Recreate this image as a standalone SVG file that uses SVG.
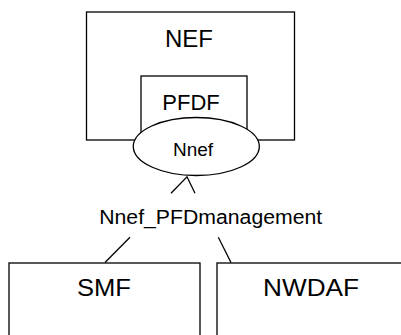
<svg xmlns="http://www.w3.org/2000/svg" width="401" height="335" viewBox="0 0 401 335">
<style>
.box{fill:#fff;stroke:#000;stroke-width:1.3}
.ln{fill:none;stroke:#000;stroke-width:1.3}
text{font-family:"Liberation Sans",Arial,sans-serif;fill:#000;text-anchor:middle}
</style>
<rect width="401" height="335" fill="#fff"/>
<g id="NEF">
<rect class="box" x="86.5" y="12" width="208" height="128"/>
<text x="189" y="46.5" font-size="24">NEF</text>
</g>
<g id="PFDF">
<rect class="box" x="141" y="76" width="106" height="60"/>
<text x="191" y="110" font-size="22">PFDF</text>
</g>
<g id="Nnef">
<ellipse class="box" cx="196.3" cy="146.5" rx="63" ry="29"/>
<text x="193" y="155.5" font-size="19">Nnef</text>
</g>
<g id="SMF">
<rect class="box" x="9" y="263" width="191" height="90"/>
<text x="104" y="295.5" font-size="24" textLength="54" lengthAdjust="spacingAndGlyphs">SMF</text>
</g>
<g id="NWDAF">
<rect class="box" x="217" y="263" width="200" height="90"/>
<text x="311" y="295.5" font-size="24" textLength="96" lengthAdjust="spacingAndGlyphs">NWDAF</text>
</g>
<g id="connectors">
<polyline class="ln" points="171,193.3 187,176.8 195,193.3"/>
<line class="ln" x1="130" y1="237.3" x2="105" y2="262.5"/>
<line class="ln" x1="218.3" y1="237.3" x2="231" y2="262.5"/>
<text x="210.7" y="223.5" font-size="20" textLength="223" lengthAdjust="spacingAndGlyphs">Nnef_PFDmanagement</text>
</g>
</svg>
